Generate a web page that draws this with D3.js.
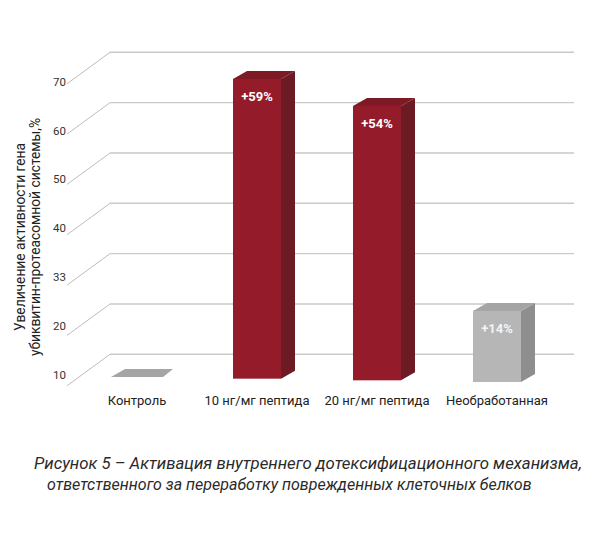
<!DOCTYPE html>
<html><head><meta charset="utf-8">
<script src="https://cdn.jsdelivr.net/npm/d3@7/dist/d3.min.js"></script>
<style>
html,body{margin:0;padding:0;background:#fff;}
svg{display:block;}
</style></head>
<body>
<svg id="chart" width="600" height="535"></svg>
<script>
// ---- data ----
const categories = ["Контроль", "10 нг/мг пептида", "20 нг/мг пептида", "Необработанная"];
const values = [0, 59, 54, 14];               // % increase
const valueLabels = ["", "+59%", "+54%", "+14%"];
const barKinds = ["flat", "red", "red", "gray"];
const tickValues = [10, 20, 30, 40, 50, 60, 70];
const tickLabels = ["10", "20", "33", "40", "50", "60", "70"];
const yTitle = ["Увеличение активности гена", "убиквитин-протеасомной системы,%"];
const caption = ["Рисунок 5 – Активация внутреннего дотексифицационного механизма,",
                 "ответственного за переработку поврежденных клеточных белков"];

const svg = d3.select("#chart");
const font = "Roboto, 'Noto Sans', sans-serif";

// ---- scales ----
const yGrid = d3.scaleLinear().domain([10, 70]).range([354.3, 52.3]);   // back wall
const yLabel = d3.scaleLinear().domain([10, 70]).range([375, 81.7]);   // tick labels
const x = d3.scalePoint().domain(categories).range([137, 497]);
const base = d3.scaleLinear().domain([137, 497]).range([377, 382]);   // slight perspective of floor
const h = d3.scaleLinear().domain([0, 60]).range([0, 304.8]);

const backX0 = 110, backX1 = 574, diagDX = -43, diagDY = 31.5;

// ---- grid ----
const grid = svg.append("g");
tickValues.forEach((t, i) => {
  const yy = yGrid(t);
  grid.append("line").attr("x1", backX0).attr("x2", backX1).attr("y1", yy).attr("y2", yy)
    .attr("stroke", "#c9c9c9").attr("stroke-width", 1.4);
  grid.append("line").attr("x1", backX0).attr("y1", yy).attr("x2", backX0 + diagDX).attr("y2", yy + diagDY)
    .attr("stroke", "#bdbdbd").attr("stroke-width", 1);
  grid.append("text").attr("x", 66).attr("y", yLabel(t)).attr("dy", "0.35em")
    .attr("text-anchor", "end").attr("font-family", font).attr("font-size", 11.5)
    .attr("fill", "#333").text(tickLabels[i]);
});

// ---- bars ----
const bw = 48, dx = 14, dy = 8;
const colors = {
  red:  {front: "#931b2a", side: "#6c1a23", top: "#7e1a26", label: "#ffffff"},
  gray: {front: "#b6b6b6", side: "#8e8e8e", top: "#a4a4a4", label: "#f4f4f4"},
  flat: {front: "#a5a5a5", side: "#a5a5a5", top: "#a5a5a5", label: "#fff"}
};
const bars = svg.append("g");
categories.forEach((c, i) => {
  const cx = x(c);
  const x0 = cx - bw / 2, x1 = cx + bw / 2;
  const yb = base(cx);
  const yt = yb - h(values[i]);
  const col = colors[barKinds[i]];
  const pts = a => a.map(p => p.join(",")).join(" ");
  if (values[i] > 0) {
    bars.append("polygon").attr("points", pts([[x1, yt], [x1 + dx, yt - dy], [x1 + dx, yb - dy], [x1, yb]]))
      .attr("fill", col.side);
    bars.append("polygon").attr("points", pts([[x0, yt], [x1, yt], [x1 + dx, yt - dy], [x0 + dx, yt - dy]]))
      .attr("fill", col.top);
    bars.append("rect").attr("x", x0).attr("y", yt).attr("width", bw).attr("height", yb - yt)
      .attr("fill", col.front);
    bars.append("text").attr("x", cx).attr("y", yt + 22).attr("text-anchor", "middle")
      .attr("font-family", font).attr("font-weight", "bold").attr("font-size", 13)
      .attr("fill", col.label).text(valueLabels[i]);
  } else {
    bars.append("polygon").attr("points", pts([[x0 - 2, yt], [x1 + 2, yt], [x1 + 2 + dx - 4, yt - dy], [x0 - 2 + dx, yt - dy]]))
      .attr("fill", col.top);
  }
  svg.append("text").attr("x", cx).attr("y", 405).attr("text-anchor", "middle")
    .attr("font-family", font).attr("font-size", 13).attr("fill", "#222").text(c);
});

// ---- y title ----
[[24.5, yTitle[0]], [39.5, yTitle[1]]].forEach(([xx, t]) => {
  svg.append("text").attr("transform", `translate(${xx},237) rotate(-90)`)
    .attr("text-anchor", "middle").attr("font-family", font).attr("font-size", 13.8)
    .attr("fill", "#222").text(t);
});

// ---- caption ----
const capSpec = [[34, 469, 548], [47, 489.5, 485]];
caption.forEach((t, i) => {
  const [cx0, cy, w] = capSpec[i];
  const el = svg.append("text").attr("x", cx0).attr("y", cy)
    .attr("font-family", "Roboto, 'Noto Sans', sans-serif").attr("font-style", "italic")
    .attr("font-size", 17).attr("fill", "#2a2a2a").text(t);
  const len = el.node().getComputedTextLength();
  el.attr("font-size", 17 * w / len);
});
</script>
</body></html>
